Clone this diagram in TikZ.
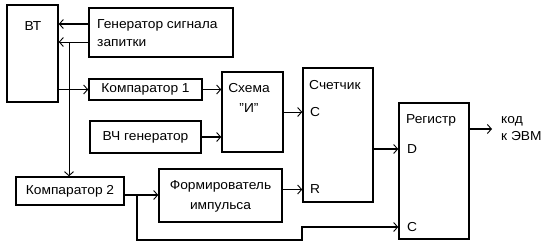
\documentclass[tikz,border=0pt]{standalone}
\usepackage{fontspec}
\setmainfont[FakeStretch=1.06]{Liberation Sans}
\usetikzlibrary{arrows.meta}
\begin{document}
\begin{tikzpicture}[x=1pt,y=-1pt,
  box/.style={draw,line width=1.5pt,inner sep=0pt},
  lbl/.style={font=\fontsize{13}{18}\selectfont,inner sep=0pt},
  arr/.style={line width=1.4pt,-{Straight Barb[length=4pt,width=9pt,line width=0.9pt]}},
  thinarr/.style={line width=0.9pt,-{Straight Barb[length=4pt,width=9pt,line width=0.9pt]}}]
\useasboundingbox (0,0) rectangle (552,247);
% boxes
\node[box,minimum width=51pt,minimum height=97pt] (VT) at (32.5,53.5) {};
\node[box,minimum width=144pt,minimum height=49pt] (Gen) at (161,32.5) {};
\node[box,minimum width=113pt,minimum height=21pt] (K1) at (145.5,89.5) {};
\node[box,minimum width=61pt,minimum height=80pt] (Sch) at (252.5,112) {};
\node[box,minimum width=111pt,minimum height=32pt] (VCh) at (145.5,137) {};
\node[box,minimum width=70pt,minimum height=134pt] (Cnt) at (338,135) {};
\node[box,minimum width=70pt,minimum height=136pt] (Reg) at (434,171) {};
\node[box,minimum width=108pt,minimum height=28pt] (K2) at (70,191) {};
\node[box,minimum width=123pt,minimum height=53pt] (Form) at (220.5,195.5) {};
% texts
\node[lbl] (tVT) at (33,26) {ВТ};
\node[lbl,anchor=west,align=left] (tGen) at (97,33) {Генератор сигнала\\запитки};
\node[lbl] (tK1) at (K1) {Компаратор 1};
\node[lbl,align=center,font=\fontsize{13}{20}\selectfont] (tSch) at (249,98) {Схема\\\char"22 И\char"22};
\node[lbl] (tVCh) at (VCh) {ВЧ генератор};
\node[lbl,anchor=west] (tCnt) at (309,85) {Счетчик};
\node[lbl,anchor=west] (tC1) at (310,112) {C};
\node[lbl,anchor=west] (tR) at (310,189.5) {R};
\node[lbl,anchor=west] (tReg) at (406,120) {Регистр};
\node[lbl,anchor=west] (tD) at (407,149) {D};
\node[lbl,anchor=west] (tC2) at (407,227) {C};
\node[lbl] (tK2) at (K2) {Компаратор 2};
\node[lbl,align=center,font=\fontsize{13}{20}\selectfont] (tForm) at (220.5,196) {Формирователь\\импульса};
\node[lbl,anchor=west,align=left,font=\fontsize{13}{17}\selectfont] (tOut) at (501,129) {код\\к ЭВМ};
% coordinates
\coordinate (g1) at ([yshift=8.5pt]Gen.west);
\coordinate (g2) at ([yshift=-9.5pt]Gen.west);
\coordinate (j1) at (69,42);
\coordinate (k2o) at ([yshift=-4pt]K2.east);
\coordinate (j2) at (137,195);
\coordinate (b1) at (302,240);
\coordinate (rc) at ([yshift=-56pt]Reg.west);
\coordinate (fo) at ([yshift=6pt]Form.east);
\coordinate (cd) at ([yshift=-14pt]Cnt.east);
\coordinate (ro) at ([yshift=42pt]Reg.east);
\coordinate (out) at (492,129);
% connectors
\draw[arr] (g1) -- (g1 -| VT.east);
\draw[thinarr] (g2) -- (g2 -| VT.east);
\draw[thinarr] (j1) -- (j1 |- K2.north);
\draw[arr] (VT.east |- K1.west) -- (K1.west);
\draw[arr] (K1.east) -- (K1.east -| Sch.west);
\draw[arr] (VCh.east) -- (VCh.east -| Sch.west);
\draw[thinarr] (Sch.east) -- (Sch.east -| Cnt.west);
\draw[arr] (k2o) -- (k2o -| Form.west);
\draw[arr] (j2) |- (b1) |- (rc);
\draw[thinarr] (fo) -- (fo -| Cnt.west);
\draw[arr] (cd) -- (cd -| Reg.west);
\draw[arr] (ro) -- (out);
\end{tikzpicture}
\end{document}
